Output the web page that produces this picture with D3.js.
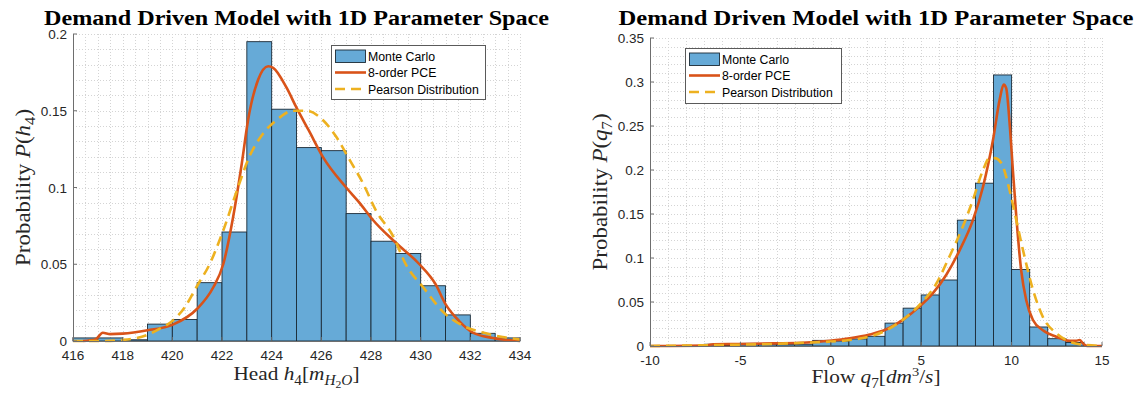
<!DOCTYPE html>
<html><head><meta charset="utf-8">
<script src="https://cdn.jsdelivr.net/npm/d3@7"></script>
<style>body{margin:0;background:#fff} svg{display:block}</style>
</head><body>
<svg id="c" width="1137" height="394"></svg>
<script>
// ---------- text ----------
const titleText = "Demand Driven Model with 1D Parameter Space";
const legendLabels = ["Monte Carlo", "8-order PCE", "Pearson Distribution"];

// ---------- left panel: head h4 ----------
const hBins = [416,417,418,419,420,421,422,423,424,425,426,427,428,429,430,431,432,433];
const hProb = [0.002,0.002,0.0008,0.011,0.014,0.038,0.071,0.195,0.151,0.126,0.124,0.083,0.065,0.057,0.036,0.017,0.005,0.002];
const hTicksX = [416,418,420,422,424,426,428,430,432,434];
const hTicksY = [0,0.05,0.1,0.15,0.2];
const hTickLabelsY = ["0","0.05","0.1","0.15","0.2"];
const hPceX = [416.4,416.9,417.2,417.5,418,419,420,421,421.65,422.05,422.45,422.8,423.05,423.45,423.86,424.06,424.6,425,425.5,426.06,427,427.54,428.07,429,429.95,430.6,431,431.55,432.1,432.9,434];
const hPceY = [0,0.001,0.0054,0.0045,0.0048,0.007,0.0105,0.021,0.035,0.05,0.081,0.116,0.144,0.17,0.179,0.178,0.165,0.152,0.137,0.12,0.1,0.09,0.079,0.064,0.05,0.037,0.024,0.013,0.0055,0.002,0];
const hPearX = [416,417.2,418,419,419.5,420,420.5,421,421.5,422.05,422.6,423.1,423.65,424.2,424.86,425.4,426.06,426.6,427.14,427.67,428.2,428.9,429.4,430.1,431,431.7,432.5,433.3,434];
const hPearY = [0,0,0.0007,0.004,0.008,0.013,0.022,0.036,0.05,0.072,0.098,0.12,0.135,0.144,0.15,0.15,0.144,0.133,0.118,0.103,0.085,0.068,0.05,0.035,0.0175,0.01,0.0055,0.0026,0.001];

// ---------- right panel: flow q7 ----------
const qBins = [-7,-6,-5,-4,-3,-2,-1,0,1,2,3,4,5,6,7,8,9,10,11,12,13];
const qProb = [0.002,0.001,0.003,0.002,0.002,0.002,0.0064,0.0057,0.008,0.011,0.026,0.043,0.058,0.075,0.143,0.185,0.308,0.087,0.0216,0.0083,0.004];
const qTicksX = [-10,-5,0,5,10,15];
const qTicksY = [0,0.05,0.1,0.15,0.2,0.25,0.3,0.35];
const qTickLabelsY = ["0","0.05","0.1","0.15","0.2","0.25","0.3","0.35"];
const qPceX = [-10,-7.05,-6.5,-5,-3.2,-1.34,-0.06,1.05,2.15,3.08,4,4.92,5.65,6.39,7.13,7.86,8.42,8.97,9.34,9.56,9.7,9.89,10.07,10.26,10.53,10.81,11.18,11.73,12.47,13.2,13.57,13.76,13.94,14.2,15];
const qPceY = [0,0.0004,0.002,0.0023,0.003,0.004,0.006,0.0087,0.013,0.019,0.03,0.045,0.06,0.081,0.109,0.143,0.181,0.234,0.28,0.297,0.293,0.253,0.2,0.147,0.086,0.052,0.0296,0.018,0.0106,0.006,0.006,0.0068,0.003,0,0];
const qPearX = [-10,-7,-5,-3,-1.34,1.05,3.08,4,4.92,5.84,6.57,7.31,7.86,8.42,8.78,9.06,9.43,9.89,10.26,10.63,11.18,11.73,12.47,13.2,13.94,15];
const qPearY = [0,0.0008,0.0015,0.0025,0.0038,0.0068,0.018,0.03,0.047,0.071,0.102,0.136,0.166,0.2,0.2135,0.2135,0.208,0.177,0.143,0.109,0.064,0.033,0.0144,0.005,0.0015,0];

// ---------- styles ----------
const C_BAR = "#66aad7", C_EDGE = "#1b2a36", C_PCE = "#d95319", C_PEAR = "#edb120";
const C_TXT = "#262626", C_AX = "#6e6e6e", C_GRID = "#d4d4d4";
const SANS = "'Liberation Sans', Arial, sans-serif";
const SERIF = "'Liberation Serif', 'Times New Roman', serif";

const svg = d3.select("#c");

function mathText(g, parts, size) {
  const t = g.append("text").attr("font-family", SERIF).attr("fill", C_TXT).attr("font-size", size);
  const off = {0:0, 1:0.25, 2:0.42, "-1":-0.36};
  const sz = {0:1, 1:0.72, 2:0.55, "-1":0.68};
  let cur = 0;
  parts.forEach(p => {
    const lv = p.lv || 0;
    const dy = (off[lv] - cur) * size;
    cur = off[lv];
    t.append("tspan").attr("dy", dy.toFixed(2)).attr("font-size", size * sz[lv])
      .attr("font-style", p.i ? "italic" : "normal").text(p.t);
  });
  return t;
}

function panel(o) {
  const g = svg.append("g");
  const x = d3.scaleLinear().domain(o.xDomain).range([o.left, o.right]);
  const y = d3.scaleLinear().domain(o.yDomain).range([o.bottom, o.top]);

  const grid = g.append("g").attr("stroke", C_GRID).attr("stroke-width", 1).attr("stroke-dasharray", "1,2");
  d3.range(o.xDomain[0], o.xDomain[1] + 1e-9, o.xMinor).forEach(v => {
    grid.append("line").attr("x1", Math.round(x(v)) + 0.5).attr("x2", Math.round(x(v)) + 0.5)
      .attr("y1", o.top).attr("y2", o.bottom);
  });
  d3.range(o.yDomain[0], o.yDomain[1] + 1e-9, o.yMinor).forEach(v => {
    grid.append("line").attr("y1", Math.round(y(v)) + 0.5).attr("y2", Math.round(y(v)) + 0.5)
      .attr("x1", o.left).attr("x2", o.right);
  });

  g.append("g").selectAll("rect").data(o.bins.map((b, i) => ({b, p: o.prob[i]}))).join("rect")
    .attr("x", d => x(d.b)).attr("width", d => x(d.b + 1) - x(d.b))
    .attr("y", d => y(d.p)).attr("height", d => y(0) - y(d.p))
    .attr("fill", C_BAR).attr("stroke", C_EDGE).attr("stroke-width", 0.9);

  const line = d3.line().x(d => x(d[0])).y(d => y(d[1])).curve(d3.curveMonotoneX);
  g.append("path").attr("d", line(o.pceX.map((v, i) => [v, o.pceY[i]])))
    .attr("fill", "none").attr("stroke", C_PCE).attr("stroke-width", 2.6).attr("stroke-linejoin", "round");
  g.append("path").attr("d", line(o.pearX.map((v, i) => [v, o.pearY[i]])))
    .attr("fill", "none").attr("stroke", C_PEAR).attr("stroke-width", 2.6).attr("stroke-dasharray", "10,6");

  g.append("line").attr("x1", o.left + 0.5).attr("x2", o.left + 0.5).attr("y1", o.top).attr("y2", o.bottom + 0.5)
    .attr("stroke", C_AX).attr("stroke-width", 1);
  g.append("line").attr("x1", o.left).attr("x2", o.right).attr("y1", o.bottom + 0.5).attr("y2", o.bottom + 0.5)
    .attr("stroke", C_AX).attr("stroke-width", 1);

  o.xTicks.forEach(v => {
    g.append("line").attr("x1", x(v)).attr("x2", x(v)).attr("y1", o.bottom).attr("y2", o.bottom - 4).attr("stroke", C_AX);
    g.append("text").attr("x", x(v)).attr("y", o.bottom + 18.5).attr("text-anchor", "middle")
      .attr("font-family", SANS).attr("font-size", 13.5).attr("fill", C_TXT).text(v);
  });
  o.yTicks.forEach((v, i) => {
    g.append("line").attr("x1", o.left).attr("x2", o.left + 4).attr("y1", y(v)).attr("y2", y(v)).attr("stroke", C_AX);
    g.append("text").attr("x", o.left - 6).attr("y", y(v) + 5).attr("text-anchor", "end")
      .attr("font-family", SANS).attr("font-size", 13.5).attr("fill", C_TXT).text(o.yLabels[i]);
  });

  const cx = (o.left + o.right) / 2;
  g.append("text").attr("x", cx).attr("y", 25).attr("text-anchor", "middle")
    .attr("font-family", SERIF).attr("font-weight", "bold").attr("font-size", 20)
    .attr("textLength", o.titleW).attr("lengthAdjust", "spacingAndGlyphs")
    .attr("fill", "#000").text(titleText);

  const xg = g.append("g").attr("transform", `translate(${cx},${o.xlabelY}) scale(1.12,1)`);
  mathText(xg, o.xlabel, 19).attr("x", 0).attr("y", 0).attr("text-anchor", "middle");
  const yg = g.append("g").attr("transform", `translate(${o.ylabelX},${(o.top + o.bottom) / 2}) rotate(-90) scale(1.15,1)`);
  mathText(yg, o.ylabel, 20).attr("x", 0).attr("y", 0).attr("text-anchor", "middle");

  const L = o.legend;
  const lg = g.append("g");
  lg.append("rect").attr("x", L.x + 0.5).attr("y", L.y + 0.5).attr("width", L.w).attr("height", L.h)
    .attr("fill", "#fff").attr("stroke", "#5a5a5a").attr("stroke-width", 1);
  const rows = [L.y + 11, L.y + 27.5, L.y + 44];
  lg.append("rect").attr("x", L.x + 4.5).attr("y", rows[0] - 6).attr("width", 30).attr("height", 12.5)
    .attr("fill", C_BAR).attr("stroke", C_EDGE).attr("stroke-width", 0.9);
  lg.append("line").attr("x1", L.x + 4).attr("x2", L.x + 35).attr("y1", rows[1]).attr("y2", rows[1])
    .attr("stroke", C_PCE).attr("stroke-width", 2.6);
  lg.append("line").attr("x1", L.x + 4).attr("x2", L.x + 35).attr("y1", rows[2]).attr("y2", rows[2])
    .attr("stroke", C_PEAR).attr("stroke-width", 2.6).attr("stroke-dasharray", "10,6");
  legendLabels.forEach((s, i) => {
    lg.append("text").attr("x", L.x + 37).attr("y", rows[i] + 4.5).attr("font-family", SANS)
      .attr("font-size", 12.3).attr("fill", "#000").text(s);
  });
}

panel({
  left: 73, right: 520, top: 34, bottom: 341,
  xDomain: [416, 434], yDomain: [0, 0.2], xMinor: 0.5, yMinor: 0.01,
  xTicks: hTicksX, yTicks: hTicksY, yLabels: hTickLabelsY,
  bins: hBins, prob: hProb, pceX: hPceX, pceY: hPceY, pearX: hPearX, pearY: hPearY,
  titleW: 505, ylabelX: 30, xlabelY: 380,
  legend: {x: 331, y: 45, w: 154, h: 54},
  xlabel: [{t:"Head "},{t:"h",i:1},{t:"4",lv:1},{t:"["},{t:"m",i:1},{t:"H",i:1,lv:1},{t:"2",lv:2},{t:"O",i:1,lv:1},{t:"]"}],
  ylabel: [{t:"Probability "},{t:"P",i:1},{t:"("},{t:"h",i:1},{t:"4",lv:1},{t:")"}]
});

panel({
  left: 650, right: 1102, top: 38, bottom: 346,
  xDomain: [-10, 15], yDomain: [0, 0.35], xMinor: 1, yMinor: 0.01,
  xTicks: qTicksX, yTicks: qTicksY, yLabels: qTickLabelsY,
  bins: qBins, prob: qProb, pceX: qPceX, pceY: qPceY, pearX: qPearX, pearY: qPearY,
  titleW: 515, ylabelX: 607, xlabelY: 383,
  legend: {x: 685, y: 48, w: 156, h: 55},
  xlabel: [{t:"Flow "},{t:"q",i:1},{t:"7",lv:1},{t:"["},{t:"dm",i:1},{t:"3",lv:-1},{t:"/"},{t:"s",i:1},{t:"]"}],
  ylabel: [{t:"Probability "},{t:"P",i:1},{t:"("},{t:"q",i:1},{t:"7",lv:1},{t:")"}]
});
</script>
</body></html>
